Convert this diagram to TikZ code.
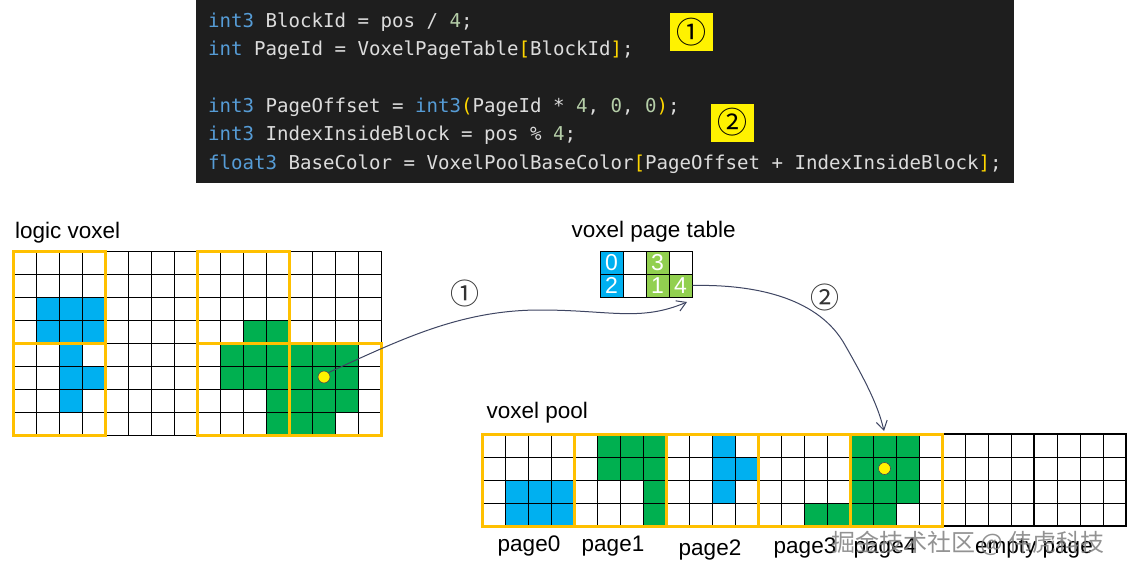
\documentclass[tikz,border=0pt]{standalone}
\usepackage{fontspec}
\setmainfont{Liberation Sans}
\newfontfamily\codefont{DejaVu Sans Mono}
\newfontfamily\circfont{Noto Sans CJK SC}
\newfontfamily\cjkfont{Noto Sans CJK SC}
\usetikzlibrary{arrows.meta}
\definecolor{codebg}{HTML}{1E1E1E}
\definecolor{kwc}{HTML}{569CD6}
\definecolor{idc}{HTML}{DCDCDC}
\definecolor{numc}{HTML}{B5CEA8}
\definecolor{brc}{HTML}{FFD700}
\definecolor{vblue}{HTML}{00B0F0}
\definecolor{vgreen}{HTML}{00B050}
\definecolor{tgreen}{HTML}{92D050}
\definecolor{yframe}{HTML}{FFC000}
\definecolor{ink}{HTML}{3F4663}
\newcommand\ckw[1]{\textcolor{kwc}{#1}}
\newcommand\cnum[1]{\textcolor{numc}{#1}}
\newcommand\cbr[1]{\textcolor{brc}{#1}}
\begin{document}
\begin{tikzpicture}[x=1pt,y=-1pt,
  codeline/.style={anchor=base west,inner sep=0pt,text=idc,font=\codefont\fontsize{19.1}{22}\selectfont},
  markbox/.style={fill=yellow,minimum width=43pt,minimum height=38pt,inner sep=0pt,font=\circfont\fontsize{30}{30}\selectfont},
  lbl/.style={anchor=base west,inner sep=0pt,font=\fontsize{22.5}{26}\selectfont},
  plbl/.style={anchor=base,inner sep=0pt,font=\fontsize{22.5}{26}\selectfont},
  circlbl/.style={inner sep=0pt,font=\circfont\fontsize{29}{29}\selectfont,text=black!80},
  gridline/.style={black,line width=1pt},
  yellowframe/.style={yframe,line width=3pt},
  tcell/.style={draw=black,line width=1pt,minimum size=23pt,inner sep=0pt,text=white,font=\fontsize{23}{23}\selectfont},
  dot/.style={circle,fill=yellow,draw=black!70,line width=0.6pt,minimum width=12pt,minimum height=12pt,inner sep=0pt},
  conn/.style={ink,line width=1pt,-{Straight Barb[length=9pt,width=11pt]}}
]
\useasboundingbox (0,0) rectangle (1128,576);
\fill[white] (0,0) rectangle (1128,576);

% ---------- code block ----------
\fill[codebg] (196,0) rectangle (1014,183);
\node[codeline] (c1) at (208,27) {\ckw{int3} BlockId = pos / \cnum{4};};
\node[codeline] (c2) at (208,55.5) {\ckw{int} PageId = VoxelPageTable\cbr{[}BlockId\cbr{]};};
\node[codeline] (c3) at (208,112) {\ckw{int3} PageOffset = \ckw{int3}\cbr{(}PageId * \cnum{4}, \cnum{0}, \cnum{0}\cbr{)};};
\node[codeline] (c4) at (208,140.5) {\ckw{int3} IndexInsideBlock = pos \% \cnum{4};};
\node[codeline] (c5) at (208,169) {\ckw{float3} BaseColor = VoxelPoolBaseColor\cbr{[}PageOffset + IndexInsideBlock\cbr{]};};
\node[markbox] (b1) at (691.5,32) {①};
\node[markbox] (b2) at (732,122.5) {②};

% ---------- logic voxel ----------
\node[lbl] (llogic) at (15,238) {logic voxel};
\foreach \c/\r in {1/2,2/2,3/2,1/3,2/3,3/3,2/4,2/5,3/5,2/6}
  \fill[vblue] ({13+\c*23},{251+\r*23}) rectangle ++(23,23);
\foreach \c/\r in {10/3,11/3,9/4,10/4,11/4,12/4,13/4,14/4,9/5,10/5,11/5,12/5,13/5,14/5,11/6,12/6,13/6,14/6,11/7,12/7,13/7}
  \fill[vgreen] ({13+\c*23},{251+\r*23}) rectangle ++(23,23);
\foreach \i in {0,...,16} \draw[gridline] ({13+\i*23},251) -- ++(0,184);
\foreach \j in {0,...,8} \draw[gridline] (13,{251+\j*23}) -- ++(368,0);
\draw[yellowframe] (13,251) rectangle (105,343);
\draw[yellowframe] (13,343) rectangle (105,435);
\draw[yellowframe] (197,251) rectangle (289,343);
\draw[yellowframe] (197,343) rectangle (289,435);
\draw[yellowframe] (289,343) rectangle (381,435);
\node[dot] (dotA) at (324,377) {};

% ---------- voxel page table ----------
\node[lbl] (ltable) at (571.5,237.5) {voxel page table};
\node[tcell,fill=vblue] (t00) at (611.5,262.5) {0};
\node[tcell,fill=white] (t10) at (634.5,262.5) {};
\node[tcell,fill=tgreen] (t20) at (657.5,262.5) {3};
\node[tcell,fill=white] (t30) at (680.5,262.5) {};
\node[tcell,fill=vblue] (t01) at (611.5,285.5) {2};
\node[tcell,fill=white] (t11) at (634.5,285.5) {};
\node[tcell,fill=tgreen] (t21) at (657.5,285.5) {1};
\node[tcell,fill=tgreen] (t31) at (680.5,285.5) {4};

% ---------- voxel pool ----------
\node[lbl] (lpool) at (486.5,418) {voxel pool};
\foreach \c/\r in {1/2,2/2,3/2,1/3,2/3,3/3,10/0,10/1,11/1,10/2}
  \fill[vblue] ({482+\c*23},{434+\r*23}) rectangle ++(23,23);
\foreach \c/\r in {5/0,6/0,7/0,5/1,6/1,7/1,7/2,7/3,14/3,15/3,16/0,17/0,18/0,16/1,17/1,18/1,16/2,17/2,18/2,16/3,17/3}
  \fill[vgreen] ({482+\c*23},{434+\r*23}) rectangle ++(23,23);
\foreach \i in {0,...,28} \draw[gridline] ({482+\i*23},434) -- ++(0,92);
\foreach \j in {0,...,4} \draw[gridline] (482,{434+\j*23}) -- ++(644,0);
\draw[black,line width=2pt] (942,434) rectangle (1034,526);
\draw[black,line width=2pt] (1034,434) rectangle (1126,526);
\foreach \p in {0,...,4} \draw[yellowframe] ({482+\p*92},434) rectangle ++(92,92);
\node[dot] (dotB) at (884.5,468.5) {};

\node[plbl] (p0) at (529,551) {page0};
\node[plbl] (p1) at (613,551) {page1};
\node[plbl] (p2) at (710,555) {page2};
\node[plbl] (p3) at (805,553) {page3};
\node[plbl] (p4) at (885,553) {page4};
\node[plbl] (p5) at (1034,553) {empty page};
\node[inner sep=0pt,font=\cjkfont\fontsize{24}{24}\selectfont,text=black!50,opacity=0.85] (wm) at (968,543) {掘金技术社区 @ 伟虎科技};

% ---------- connectors ----------
\coordinate (tipA) at (687,302);
\coordinate (tipB) at (884,431);
\draw[conn] (dotA.north east) .. controls (400,340) and (460,310) .. (540,310) .. controls (610,310) and (640,322) .. (tipA);
\draw[conn] (t31.east) .. controls (760,284) and (820,300) .. (845,345) .. controls (865,380) and (878,405) .. (tipB);
\node[circlbl] (n1) at (465,293) {①};
\node[circlbl] (n2) at (825,297) {②};
\end{tikzpicture}
\end{document}
